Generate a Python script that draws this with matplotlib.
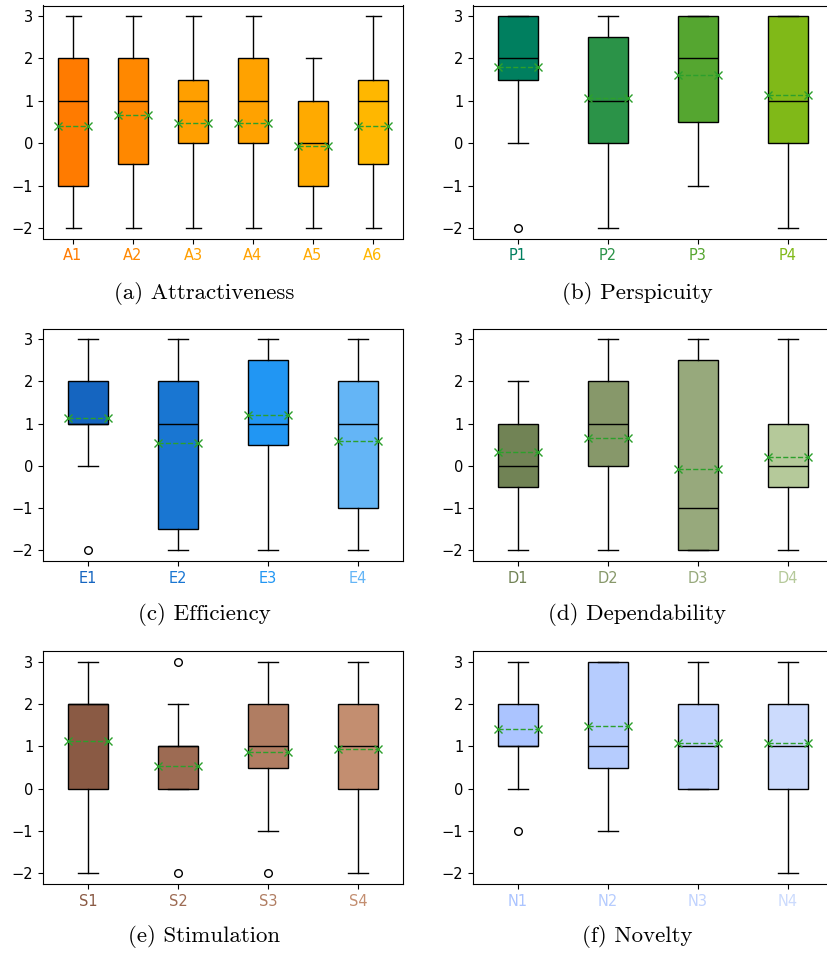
import matplotlib
matplotlib.use("Agg")
import matplotlib.pyplot as plt

# ---- datos (escala -2..3) ----
etiquetas_a = ["A1", "A2", "A3", "A4", "A5", "A6"]
colores_a = ["#ff7b00", "#ff8800", "#ff9f00", "#ffa200", "#ffaa00", "#ffb700"]
med_a = [1, 1, 1, 1, 0, 1]
q1_a = [-1, -0.5, 0, 0, -1, -0.5]
q3_a = [2, 2, 1.5, 2, 1, 1.5]
lo_a = [-2, -2, -2, -2, -2, -2]
hi_a = [3, 3, 3, 3, 2, 3]
media_a = [0.40, 0.67, 0.47, 0.47, -0.07, 0.40]
out_a = [[], [], [], [], [], []]

etiquetas_p = ["P1", "P2", "P3", "P4"]
colores_p = ["#007f5f", "#2b9348", "#55a630", "#80b918"]
med_p = [2, 1, 2, 1]
q1_p = [1.5, 0, 0.5, 0]
q3_p = [3, 2.5, 3, 3]
lo_p = [0, -2, -1, -2]
hi_p = [3, 3, 3, 3]
media_p = [1.80, 1.07, 1.60, 1.13]
out_p = [[-2], [], [], []]

etiquetas_e = ["E1", "E2", "E3", "E4"]
colores_e = ["#1565c0", "#1976d2", "#2196f3", "#64b5f6"]
med_e = [1, 1, 1, 1]
q1_e = [1, -1.5, 0.5, -1]
q3_e = [2, 2, 2.5, 2]
lo_e = [0, -2, -2, -2]
hi_e = [3, 3, 3, 3]
media_e = [1.13, 0.53, 1.20, 0.60]
out_e = [[-2], [], [], []]

etiquetas_d = ["D1", "D2", "D3", "D4"]
colores_d = ["#718355", "#87986a", "#97a97c", "#b5c99a"]
med_d = [0, 1, -1, 0]
q1_d = [-0.5, 0, -2, -0.5]
q3_d = [1, 2, 2.5, 1]
lo_d = [-2, -2, -2, -2]
hi_d = [2, 3, 3, 3]
media_d = [0.33, 0.67, -0.07, 0.20]
out_d = [[], [], [], []]

etiquetas_s = ["S1", "S2", "S3", "S4"]
colores_s = ["#8a5a44", "#9d6b53", "#b07d62", "#c38e70"]
med_s = [2, 1, 1, 1]
q1_s = [0, 0, 0.5, 0]
q3_s = [2, 1, 2, 2]
lo_s = [-2, 0, -1, -2]
hi_s = [3, 2, 3, 3]
media_s = [1.13, 0.53, 0.87, 0.93]
out_s = [[], [3, -2], [-2], []]

etiquetas_n = ["N1", "N2", "N3", "N4"]
colores_n = ["#abc4ff", "#b6ccfe", "#c1d3fe", "#ccdbfd"]
med_n = [1, 1, 1, 1]
q1_n = [1, 0.5, 0, 0]
q3_n = [2, 3, 2, 2]
lo_n = [0, -1, 0, -2]
hi_n = [3, 3, 3, 3]
media_n = [1.40, 1.47, 1.07, 1.07]
out_n = [[-1], [], [], []]

titulos = ["(a) Attractiveness", "(b) Perspicuity", "(c) Efficiency",
           "(d) Dependability", "(e) Stimulation", "(f) Novelty"]


def estadisticas(etiquetas, med, q1, q3, lo, hi, media, out):
    stats = []
    for i in range(len(etiquetas)):
        stats.append(dict(label=etiquetas[i], med=med[i], q1=q1[i], q3=q3[i],
                          whislo=lo[i], whishi=hi[i], mean=media[i], fliers=out[i]))
    return stats


paneles = [
    (etiquetas_a, colores_a, estadisticas(etiquetas_a, med_a, q1_a, q3_a, lo_a, hi_a, media_a, out_a)),
    (etiquetas_p, colores_p, estadisticas(etiquetas_p, med_p, q1_p, q3_p, lo_p, hi_p, media_p, out_p)),
    (etiquetas_e, colores_e, estadisticas(etiquetas_e, med_e, q1_e, q3_e, lo_e, hi_e, media_e, out_e)),
    (etiquetas_d, colores_d, estadisticas(etiquetas_d, med_d, q1_d, q3_d, lo_d, hi_d, media_d, out_d)),
    (etiquetas_s, colores_s, estadisticas(etiquetas_s, med_s, q1_s, q3_s, lo_s, hi_s, media_s, out_s)),
    (etiquetas_n, colores_n, estadisticas(etiquetas_n, med_n, q1_n, q3_n, lo_n, hi_n, media_n, out_n)),
]

W, H = 827, 957
fig = plt.figure(figsize=(W / 100, H / 100), dpi=100)

# posiciones en pixeles (izquierda, arriba, abajo) de cada eje
x_cols = [43, 473]
filas = [(5.5, 238.5), (328.5, 561), (651, 884)]
y_titulo = [293, 615, 937]
x_titulo = [204, 637]

for k, (etiquetas, colores, stats) in enumerate(paneles):
    fila, col = k // 2, k % 2
    top, bot = filas[fila]
    ax = fig.add_axes([x_cols[col] / W, 1 - bot / H, 360 / W, (bot - top) / H])
    bp = ax.bxp(stats, patch_artist=True, showmeans=True, meanline=True,
                boxprops=dict(edgecolor="black", linewidth=1),
                medianprops=dict(color="black", linewidth=1),
                whiskerprops=dict(color="black", linewidth=1),
                capprops=dict(color="black", linewidth=1),
                meanprops=dict(color="#2ca02c", linestyle="--", linewidth=1,
                               marker="x", markersize=5.5, markeredgecolor="#2ca02c"),
                flierprops=dict(marker="o", markerfacecolor="none",
                                markeredgecolor="black", markersize=5.5))
    for caja, c in zip(bp["boxes"], colores):
        caja.set_facecolor(c)
    ax.set_yticks([-2, -1, 0, 1, 2, 3])
    ax.tick_params(labelsize=10.5)
    for lab, c in zip(ax.get_xticklabels(), colores):
        lab.set_color(c)
    fig.text(x_titulo[col] / W, 1 - y_titulo[fila] / H, titulos[k],
             family="cmr10", fontsize=16.5, ha="center", va="center")

fig.savefig("out.png", dpi=100)
